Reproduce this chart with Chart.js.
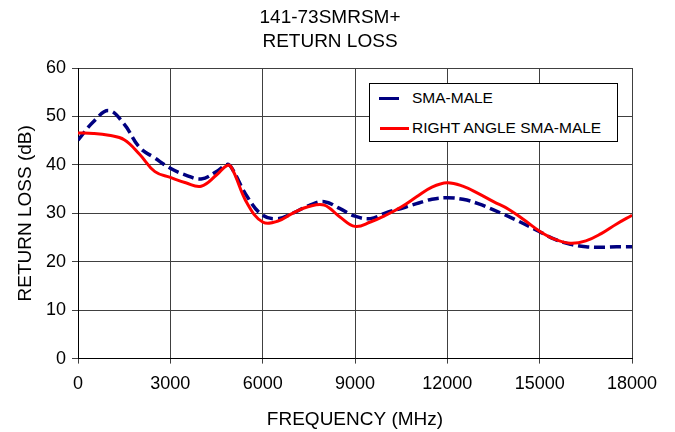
<!DOCTYPE html>
<html>
<head>
<meta charset="utf-8">
<script src="https://cdn.jsdelivr.net/npm/chart.js@4"></script>
<style>
  body { margin: 0; background: #fff; }
  #wrap { position: relative; width: 675px; height: 432px; font-family: "Liberation Sans", Arial, sans-serif; color: #000; }
  #title { position: absolute; left: 0; top: 5px; width: 660px; text-align: center; font-size: 19px; line-height: 24px; }
  #legend { position: absolute; left: 369px; top: 83px; width: 249px; height: 59px; box-sizing: border-box;
            border: 1px solid #000; background: #fff; font-size: 15.5px; }
  .row { position: absolute; left: 0; height: 20px; line-height: 20px; }
  .row span.txt { position: absolute; left: 42px; white-space: nowrap; }
  .row span.ln { position: absolute; top: 9px; height: 3px; }
</style>
</head>
<body>
<div id="wrap">
  <canvas id="myChart" width="675" height="432"></canvas>
  <div id="title">141-73SMRSM+<br>RETURN LOSS</div>
  <div id="legend">
    <div class="row" style="top:4px"><span class="ln" style="left:9px;width:20px;background:#000080"></span><span class="txt">SMA-MALE</span></div>
    <div class="row" style="top:34px"><span class="ln" style="left:10px;width:29px;background:#ff0000"></span><span class="txt">RIGHT ANGLE SMA-MALE</span></div>
  </div>
</div>
<script>
// frequency points (MHz) and return loss (dB)
var freqMHz = [0, 500, 1000, 1500, 2000, 2500, 3000, 3500, 4000, 4500, 4850, 5000, 5500, 6000, 6500, 7000, 7500, 8000, 8500, 9000,
               9500, 10000, 10500, 11000, 11500, 12000, 12500, 13000, 13500, 14000, 14500, 15000, 15500, 16000, 16500, 17000, 17500, 18000];
var smaMale = [45.1, 48.9, 51.2, 48.4, 43.6, 41.4, 39.3, 37.9, 37.1, 38.6, 40.1, 39.3, 33.4, 29.6, 28.9, 30.1, 31.6, 32.4, 31.0, 29.4,
               28.9, 30.1, 31.0, 32.0, 32.9, 33.2, 32.9, 32.0, 30.7, 29.3, 27.8, 26.2, 24.6, 23.6, 23.1, 23.0, 23.1, 23.1];
var rightAngle = [46.6, 46.5, 46.1, 45.2, 42.2, 38.6, 37.4, 36.3, 35.6, 37.9, 39.9, 39.3, 32.0, 28.2, 28.4, 30.1, 31.4, 31.7, 29.3, 27.3,
                  28.2, 29.6, 31.3, 33.4, 35.4, 36.3, 35.6, 34.1, 32.4, 30.8, 28.6, 26.3, 24.6, 23.8, 24.3, 25.8, 27.8, 29.6];
var xTicks = ['0', '3000', '6000', '9000', '12000', '15000', '18000'];
var yTicks = ['0', '10', '20', '30', '40', '50', '60'];

var pts = function(ys){
    return freqMHz.map(function(f, i){ return {x: f, y: ys[i]}; });
};

var ctx = document.getElementById('myChart').getContext('2d');
var chart = new Chart(ctx, {
    type: 'line',
    data: {
        datasets: [{
            label: 'SMA-MALE',
            data: pts(smaMale),
            borderColor: '#000080',
            borderWidth: 3.5,
            borderDash: [11, 5],
            pointRadius: 0,
            tension: 0.4,
            order: 1
        }, {
            label: 'RIGHT ANGLE SMA-MALE',
            data: pts(rightAngle),
            borderColor: '#ff0000',
            borderWidth: 3,
            pointRadius: 0,
            tension: 0.4,
            order: 0
        }]
    },
    options: {
        responsive: false,
        animation: false,
        layout: { padding: { top: 68, left: 0, right: 43, bottom: 0 } },
        plugins: { legend: { display: false }, tooltip: { enabled: false }, title: { display: false } },
        scales: {
            x: {
                type: 'linear', min: 0, max: 18000,
                grid: { color: '#404040', lineWidth: 1, tickLength: 5 },
                border: { color: '#000' },
                ticks: { stepSize: 3000, padding: 10, color: '#000', maxRotation: 0,
                         font: { family: 'Liberation Sans', size: 18 },
                         callback: function(v){ return xTicks[v / 3000]; } },
                title: { display: true, text: 'FREQUENCY (MHz)', color: '#000',
                         font: { family: 'Liberation Sans', size: 19 }, padding: { top: 3, bottom: 1 } }
            },
            y: {
                min: 0, max: 60,
                afterFit: function(s){ s.width = 78; },
                grid: { color: '#404040', lineWidth: 1, tickLength: 6 },
                border: { color: '#000' },
                ticks: { stepSize: 10, padding: 6, color: '#000',
                         font: { family: 'Liberation Sans', size: 18 },
                         callback: function(v){ return yTicks[v / 10]; } },
                title: { display: true, text: 'RETURN LOSS (dB)', color: '#000',
                         font: { family: 'Liberation Sans', size: 19 }, padding: { top: 14, bottom: 0 } }
            }
        }
    }
});
</script>
</body>
</html>
